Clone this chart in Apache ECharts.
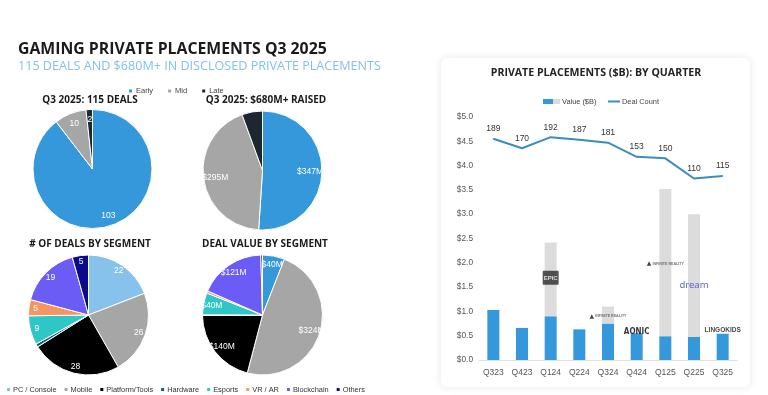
<!DOCTYPE html>
<html><head><meta charset="utf-8">
<script src="https://cdn.jsdelivr.net/npm/echarts@6/dist/echarts.min.js"></script>
<style>html,body{margin:0;padding:0;background:#fff}#c{width:768px;height:395px}</style>
</head><body><div id="c"></div>
<script>
// ---------- data ----------
const stages = ['Early', 'Mid', 'Late'];
const dealsByStage = [103, 10, 2];
const dealsStageLabels = ['103', '10', '2'];
const valueByStage = [347, 295, 38];
const valueStageLabels = ['$347M', '$295M', ''];

const segments = ['PC / Console', 'Mobile', 'Platform/Tools', 'Hardware', 'Esports', 'VR / AR', 'Blockchain', 'Others'];
const dealsBySegment = [22, 26, 28, 1, 9, 5, 19, 5];
const dealsSegmentLabels = ['22', '26', '28', '', '9', '5', '19', '5'];
const valueBySegment = [40, 324, 140, 1, 40, 4, 121, 3];
const valueSegmentLabels = ['$40M', '$324M', '$140M', '', '$40M', '', '$121M', ''];

const quarters = ['Q323', 'Q423', 'Q124', 'Q224', 'Q324', 'Q424', 'Q125', 'Q225', 'Q325'];
const valueBase = [1.03, 0.66, 0.90, 0.63, 0.75, 0.55, 0.49, 0.48, 0.54];
const valueLargeDeal = [0, 0, 1.52, 0, 0.35, 0, 3.03, 2.52, 0];
const dealCounts = [189, 170, 192, 187, 181, 153, 150, 110, 115];

const logoQuarters = ['Q124', 'Q324', 'Q424', 'Q125', 'Q225', 'Q325'];
const logoValues = [1.69, 0.90, 0.58, 1.98, 1.54, 0.62];
const logoNames = ['EPIC', 'INFINITE', 'AONIC', 'INFINITE', 'dream', 'LINGOKIDS'];

// ---------- styles ----------
const stageColors = ['#3598DB', '#A6A6A6', '#1E2631'];
const segColorsDeals = ['#86C2EB', '#A6A6A6', '#000000', '#1F5B78', '#2EC7C6', '#F6955F', '#6B5CF5', '#0A0A8A'];
const segColorsValue = ['#3598DB', '#A6A6A6', '#000000', '#1F5B78', '#2EC7C6', '#F6955F', '#6B5CF5', '#0A0A8A'];
const HEAD = '"Open Sans", sans-serif';
const BODY = '"Liberation Sans", Arial, sans-serif';

function pieData(names, vals, colors) {
  return names.map((n, i) => ({ name: n, value: vals[i], itemStyle: { color: colors[i] } }));
}
function pieSeries(center, r, names, vals, colors, labels, labelRing) {
  return [
    {
      type: 'pie', center: center, radius: [0, r], startAngle: 90, clockwise: true,
      data: pieData(names, vals, colors), label: { show: false }, labelLine: { show: false },
      itemStyle: { borderColor: '#fff', borderWidth: 1 }, silent: true, animation: false
    },
    {
      type: 'pie', center: center, radius: [r * labelRing, r], startAngle: 90, clockwise: true,
      avoidLabelOverlap: false,
      data: names.map((n, i) => ({ name: n, value: vals[i], itemStyle: { color: 'rgba(0,0,0,0)' } })),
      label: {
        show: true, position: 'inside', color: '#fff', fontSize: 8.5, fontFamily: BODY,
        formatter: p => labels[p.dataIndex]
      },
      labelLine: { show: false }, itemStyle: { borderWidth: 0 }, silent: true, animation: false,
      legendHoverLink: false
    }
  ];
}

const valueIcon = 'image://data:image/svg+xml;charset=utf-8,' + encodeURIComponent(
  '<svg xmlns="http://www.w3.org/2000/svg" width="17" height="5"><rect width="10" height="5" fill="#3598DB"/><rect x="10" width="7" height="5" fill="#DCDCDC"/></svg>');

const logoRich = {
  epic: { color: '#fff', backgroundColor: '#2a2a2a', fontSize: 6, fontWeight: 'bold', padding: [4, 1, 4, 1], borderRadius: 1, fontFamily: BODY },
  ic: { color: '#111', fontSize: 6, fontFamily: 'DejaVu Sans', padding: [0, 1, 0, 0] },
  inf: { color: '#555', fontSize: 3.6, fontFamily: BODY, fontWeight: 'bold' },
  aonic: { color: '#000', fontSize: 8, fontWeight: 900, fontFamily: '"DejaVu Sans Condensed", "DejaVu Sans", sans-serif' },
  dream: { color: '#3E3EC8', fontSize: 9.5, fontFamily: '"Noto Sans", sans-serif' },
  lingo: { color: '#111', fontSize: 6.5, fontWeight: 'bold', fontFamily: BODY }
};
function logoText(name) {
  if (name === 'EPIC') return '{epic|EPIC}';
  if (name === 'INFINITE') return '{ic|▲}{inf|INFINITE REALITY}';
  if (name === 'AONIC') return '{aonic|AONIC}';
  if (name === 'dream') return '{dream|dream}';
  return '{lingo|' + name + '}';
}

const chart = echarts.init(document.getElementById('c'), null, { renderer: 'canvas' });
const option = {
  backgroundColor: '#fff',
  animation: false,
  graphic: [
    { type: 'rect', z: -10, shape: { x: 441, y: 58, width: 309, height: 329, r: 6 },
      style: { fill: '#fff', shadowBlur: 8, shadowColor: 'rgba(0,0,0,0.10)' } },
    { type: 'text', x: 18, y: 49, style: { text: 'GAMING PRIVATE PLACEMENTS Q3 2025', font: 'bold 15.8px ' + HEAD, fill: '#1a1a1a', textVerticalAlign: 'middle' } },
    { type: 'text', x: 18, y: 66, style: { text: '115 DEALS AND $680M+ IN DISCLOSED PRIVATE PLACEMENTS', font: '12.6px ' + HEAD, fill: '#80C3E9', textVerticalAlign: 'middle' } },
    { type: 'text', x: 90, y: 100, style: { text: 'Q3 2025: 115 DEALS', font: 'bold 10px ' + HEAD, fill: '#1a1a1a', textAlign: 'center', textVerticalAlign: 'middle' } },
    { type: 'text', x: 266, y: 100, style: { text: 'Q3 2025: $680M+ RAISED', font: 'bold 10px ' + HEAD, fill: '#1a1a1a', textAlign: 'center', textVerticalAlign: 'middle' } },
    { type: 'text', x: 90, y: 244, style: { text: '# OF DEALS BY SEGMENT', font: 'bold 10px ' + HEAD, fill: '#1a1a1a', textAlign: 'center', textVerticalAlign: 'middle' } },
    { type: 'text', x: 265, y: 244, style: { text: 'DEAL VALUE BY SEGMENT', font: 'bold 10px ' + HEAD, fill: '#1a1a1a', textAlign: 'center', textVerticalAlign: 'middle' } },
    { type: 'text', x: 596, y: 73, style: { text: 'PRIVATE PLACEMENTS ($B): BY QUARTER', font: 'bold 10.6px ' + HEAD, fill: '#222', textAlign: 'center', textVerticalAlign: 'middle' } }
  ],
  legend: [
    { data: stages, left: 122, top: 82, itemWidth: 5, itemHeight: 5, itemGap: 13, icon: 'rect',
      textStyle: { fontSize: 7.5, color: '#444', fontFamily: BODY, padding: [0, 0, 0, -2] } },
    { data: segments, left: 0, top: 381, itemWidth: 5, itemHeight: 5, itemGap: 6, icon: 'rect',
      textStyle: { fontSize: 7.4, color: '#333', fontFamily: BODY, padding: [0, 0, 0, -3] } },
    { data: [{ name: 'Value ($B)', icon: valueIcon }],
      left: 538, top: 93, itemWidth: 17, itemHeight: 5,
      textStyle: { fontSize: 7.4, color: '#444', fontFamily: BODY, padding: [0, 0, 0, -3] } },
    { data: [{ name: 'Deal Count', icon: 'rect' }],
      left: 603, top: 93, itemWidth: 12, itemHeight: 2,
      textStyle: { fontSize: 7.4, color: '#444', fontFamily: BODY, padding: [0, 0, 0, -3] } }
  ],
  grid: { left: 479, right: 31, top: 117, bottom: 35 },
  xAxis: {
    type: 'category', data: quarters,
    axisLine: { lineStyle: { color: '#E2E2E2' } }, axisTick: { show: false },
    axisLabel: { fontSize: 8.5, color: '#555', fontFamily: BODY, margin: 8 }
  },
  yAxis: [
    { type: 'value', min: 0, max: 5, interval: 0.5, splitLine: { show: false },
      axisLine: { show: false }, axisTick: { show: false },
      axisLabel: { fontSize: 8.3, color: '#555', fontFamily: BODY, margin: 6, formatter: v => '$' + v.toFixed(1) } },
    { type: 'value', min: -250, max: 232, show: false, splitLine: { show: false } }
  ],
  series: [
    ...pieSeries([92.5, 169], 59.5, stages, dealsByStage, stageColors, dealsStageLabels, 0.55),
    ...pieSeries([262.5, 170.5], 59.5, stages, valueByStage, stageColors, valueStageLabels, 0.5),
    ...pieSeries([88.5, 315], 60, segments, dealsBySegment, segColorsDeals, dealsSegmentLabels, 0.68),
    ...pieSeries([262.5, 315], 60, segments, valueBySegment, segColorsValue, valueSegmentLabels, 0.62),
    { name: 'Value ($B)', type: 'bar', stack: 'v', barWidth: 12, data: valueBase,
      itemStyle: { color: '#3598DB' } },
    { name: 'Value ($B)', type: 'bar', stack: 'v', barWidth: 12, data: valueLargeDeal,
      itemStyle: { color: '#DCDCDC' } },
    { name: 'Deal Count', type: 'line', yAxisIndex: 1, data: dealCounts,
      symbol: 'circle', symbolSize: 1, showSymbol: true,
      lineStyle: { color: '#3C8DBE', width: 2 }, itemStyle: { color: '#3C8DBE' },
      label: { show: true, position: 'top', distance: 5, fontSize: 8.5, color: '#333', fontFamily: BODY } },
    { type: 'scatter', symbolSize: 0, silent: true, z: 5,
      data: logoQuarters.map((q, i) => [q, logoValues[i], logoNames[i]]),
      label: { show: true, position: 'inside', formatter: p => logoText(p.data[2]), rich: logoRich } }
  ]
};
chart.setOption(option);
</script></body></html>
